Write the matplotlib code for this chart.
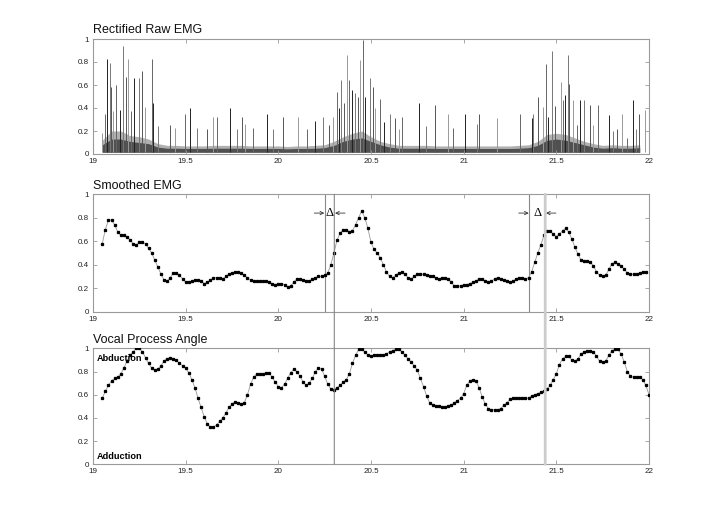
import numpy as np
import matplotlib
matplotlib.use("Agg")
import matplotlib.pyplot as plt
from matplotlib.patches import ConnectionPatch

plt.rcParams['font.family'] = ['Liberation Sans', 'DejaVu Sans']

# ---------------- data ----------------
sample_start = 19.05
sample_rate = 60.0

smoothed_emg = [
    0.58, 0.70, 0.78, 0.78, 0.74, 0.68, 0.65, 0.65, 0.64, 0.61,
    0.58, 0.57, 0.59, 0.59, 0.58, 0.54, 0.50, 0.44, 0.38, 0.32,
    0.27, 0.26, 0.29, 0.33, 0.33, 0.31, 0.28, 0.25, 0.25, 0.26,
    0.27, 0.27, 0.26, 0.24, 0.25, 0.27, 0.29, 0.29, 0.29, 0.28,
    0.30, 0.32, 0.33, 0.34, 0.34, 0.33, 0.31, 0.29, 0.27, 0.26,
    0.26, 0.26, 0.26, 0.26, 0.25, 0.24, 0.23, 0.24,
    0.24, 0.23, 0.21, 0.22, 0.25, 0.28, 0.28, 0.27, 0.26, 0.26,
    0.28, 0.29, 0.30, 0.30, 0.31, 0.33, 0.40, 0.50, 0.61, 0.67,
    0.70, 0.70, 0.68, 0.69, 0.74, 0.80, 0.86, 0.80, 0.71, 0.59,
    0.53, 0.50, 0.46, 0.40, 0.34, 0.30, 0.29, 0.31, 0.33, 0.34,
    0.32, 0.29, 0.28, 0.30, 0.32, 0.32, 0.32, 0.31, 0.30, 0.30,
    0.29, 0.28, 0.29, 0.29, 0.28, 0.25, 0.22, 0.22, 0.22, 0.23,
    0.23, 0.24, 0.25, 0.26, 0.28, 0.28, 0.26, 0.25, 0.26, 0.28,
    0.29, 0.28, 0.27, 0.26, 0.25, 0.26, 0.28, 0.29, 0.29, 0.28,
    0.29, 0.34, 0.42, 0.50, 0.57, 0.65, 0.69, 0.69, 0.66, 0.64,
    0.66, 0.69, 0.71, 0.68, 0.62, 0.55, 0.49, 0.44, 0.43, 0.43,
    0.42, 0.39, 0.34, 0.31, 0.30, 0.31, 0.36, 0.41, 0.42, 0.41,
    0.39, 0.36, 0.33, 0.32, 0.32, 0.32, 0.33, 0.34, 0.34,
]

vocal_angle = [
    0.57, 0.63, 0.68, 0.72, 0.74, 0.75, 0.78, 0.83, 0.89, 0.94,
    0.97, 1.00, 1.00, 0.97, 0.92, 0.87, 0.83, 0.81, 0.82, 0.85,
    0.89, 0.91, 0.92, 0.91, 0.90, 0.87, 0.85, 0.83, 0.79, 0.73,
    0.66, 0.57, 0.49, 0.41, 0.35, 0.32, 0.32, 0.34, 0.37, 0.40,
    0.44, 0.49, 0.52, 0.54, 0.53, 0.52, 0.53, 0.60, 0.69, 0.75,
    0.78, 0.78, 0.78, 0.79, 0.79, 0.75, 0.71, 0.67,
    0.66, 0.69, 0.74, 0.79, 0.82, 0.80, 0.76, 0.71, 0.68, 0.70,
    0.74, 0.80, 0.83, 0.82, 0.76, 0.69, 0.65, 0.64, 0.66, 0.68,
    0.71, 0.73, 0.78, 0.87, 0.94, 0.99, 0.99, 0.97, 0.94, 0.93,
    0.94, 0.94, 0.94, 0.94, 0.95, 0.97, 0.98, 0.99, 0.99, 0.97,
    0.94, 0.91, 0.88, 0.85, 0.81, 0.74, 0.67, 0.59, 0.53, 0.51,
    0.50, 0.50, 0.49, 0.49, 0.50, 0.51, 0.53, 0.55, 0.57, 0.61,
    0.68, 0.72, 0.73, 0.72, 0.66, 0.58, 0.52, 0.48, 0.47, 0.47,
    0.47, 0.48, 0.51, 0.53, 0.56, 0.57, 0.57, 0.57, 0.57, 0.57,
    0.57, 0.59, 0.60, 0.61, 0.62, 0.63, 0.65, 0.68, 0.73, 0.78,
    0.86, 0.91, 0.93, 0.93, 0.90, 0.89, 0.91, 0.95, 0.97, 0.98,
    0.98, 0.97, 0.93, 0.89, 0.88, 0.89, 0.94, 0.98, 0.99, 0.99,
    0.95, 0.88, 0.80, 0.76, 0.75, 0.75, 0.75, 0.73, 0.68, 0.60,
]

# Raw EMG: visible spikes (time, peak) and baseline envelopes
spike_times = [
    19.050, 19.065, 19.077, 19.090, 19.097, 19.110, 19.122, 19.147, 19.164, 19.176,
    19.191, 19.203, 19.221, 19.250, 19.266, 19.281, 19.320, 19.325, 19.353, 19.416,
    19.443, 19.497, 19.523, 19.560, 19.614, 19.649, 19.667, 19.739, 19.775, 19.802,
    19.820, 19.865, 19.941, 19.973, 20.024, 20.108, 20.153, 20.198, 20.243, 20.275,
    20.297, 20.315, 20.329, 20.338, 20.355, 20.369, 20.383, 20.398, 20.416, 20.428,
    20.441, 20.455, 20.468, 20.493, 20.509, 20.522, 20.549, 20.570, 20.603, 20.630,
    20.653, 20.669, 20.761, 20.797, 20.846, 20.918, 20.941, 21.008, 21.071, 21.083,
    21.179, 21.304, 21.367, 21.376, 21.403, 21.430, 21.445, 21.457, 21.479, 21.493,
    21.524, 21.535, 21.549, 21.562, 21.570, 21.589, 21.610, 21.628, 21.650, 21.682,
    21.700, 21.727, 21.786, 21.808, 21.830, 21.856, 21.883, 21.916, 21.930, 21.948,
    21.979,
]
spike_peaks = [
    0.18, 0.35, 0.83, 0.79, 0.58, 0.37, 0.60, 0.38, 0.94, 0.67,
    0.83, 0.37, 0.66, 0.66, 0.72, 0.41, 0.83, 0.44, 0.24, 0.25,
    0.23, 0.35, 0.40, 0.23, 0.22, 0.32, 0.32, 0.40, 0.22, 0.32,
    0.26, 0.23, 0.35, 0.22, 0.32, 0.32, 0.22, 0.29, 0.32, 0.25,
    0.32, 0.54, 0.40, 0.64, 0.44, 0.86, 0.64, 0.56, 0.53, 0.50,
    0.82, 0.99, 0.50, 0.66, 0.58, 0.40, 0.48, 0.28, 0.35, 0.31,
    0.22, 0.32, 0.44, 0.24, 0.43, 0.35, 0.23, 0.35, 0.26, 0.35,
    0.31, 0.35, 0.31, 0.35, 0.50, 0.41, 0.78, 0.32, 0.90, 0.42,
    0.63, 0.47, 0.51, 0.86, 0.61, 0.47, 0.25, 0.47, 0.47, 0.43,
    0.25, 0.43, 0.34, 0.20, 0.22, 0.35, 0.14, 0.47, 0.22, 0.35,
    0.38,
]

envelope_times = [
    19.05, 19.10, 19.15, 19.20, 19.25, 19.30, 19.35, 19.40, 19.45, 19.50,
    19.55, 19.60, 19.65, 19.70, 19.75, 19.80, 19.85, 19.90, 19.95, 20.00,
    20.05, 20.10, 20.15, 20.20, 20.25, 20.30, 20.35, 20.40, 20.45, 20.50,
    20.55, 20.60, 20.65, 20.70, 20.75, 20.80, 20.85, 20.90, 20.95, 21.00,
    21.05, 21.10, 21.15, 21.20, 21.25, 21.30, 21.35, 21.40, 21.45, 21.50,
    21.55, 21.60, 21.65, 21.70, 21.75, 21.80, 21.85, 21.90, 21.95,
]
envelope_light = [
    0.12, 0.20, 0.20, 0.16, 0.15, 0.13, 0.09, 0.075, 0.075, 0.07,
    0.07, 0.07, 0.075, 0.075, 0.075, 0.075, 0.07, 0.07, 0.07, 0.07,
    0.065, 0.07, 0.07, 0.075, 0.08, 0.11, 0.15, 0.18, 0.20, 0.15,
    0.11, 0.09, 0.075, 0.075, 0.075, 0.075, 0.07, 0.07, 0.07, 0.07,
    0.07, 0.07, 0.07, 0.07, 0.07, 0.075, 0.08, 0.11, 0.17, 0.18,
    0.17, 0.14, 0.11, 0.09, 0.075, 0.08, 0.075, 0.075, 0.08,
]
envelope_dark = [
    0.08, 0.13, 0.13, 0.11, 0.10, 0.09, 0.06, 0.05, 0.05, 0.048,
    0.048, 0.048, 0.05, 0.05, 0.05, 0.05, 0.048, 0.048, 0.048, 0.048,
    0.045, 0.048, 0.048, 0.05, 0.055, 0.075, 0.11, 0.13, 0.14, 0.11,
    0.08, 0.06, 0.05, 0.05, 0.05, 0.05, 0.048, 0.048, 0.048, 0.048,
    0.048, 0.048, 0.048, 0.048, 0.048, 0.05, 0.055, 0.075, 0.12, 0.13,
    0.12, 0.10, 0.08, 0.06, 0.05, 0.055, 0.05, 0.05, 0.055,
]

onset_lines = [20.252, 21.355]      # middle panel only
angle_lines = [20.302, 21.440]      # span middle + bottom panels

x_ticks = [19, 19.5, 20, 20.5, 21, 21.5, 22]
x_tick_labels = ['19', '19.5', '20', '20.5', '21', '21.5', '22']
y_ticks = [0, 0.2, 0.4, 0.6, 0.8, 1.0]
y_tick_labels = ['0', '0.2', '0.4', '0.6', '0.8', '1']
titles = ['Rectified Raw EMG', 'Smoothed EMG', 'Vocal Process Angle']

# ---------------- figure ----------------
fig = plt.figure(figsize=(7.18, 5.24), dpi=100)
L, W = 93 / 718, 556 / 718
ax_top = fig.add_axes([L, 1 - 154 / 524, W, 115 / 524])
ax_mid = fig.add_axes([L, 1 - 311.7 / 524, W, 117.4 / 524])
ax_bot = fig.add_axes([L, 1 - 464.3 / 524, W, 116 / 524])

spine_c = '#9a9a9a'
for ax, title in zip([ax_top, ax_mid, ax_bot], titles):
    ax.set_xlim(19, 22)
    ax.set_ylim(0, 1)
    ax.set_xticks(x_ticks)
    ax.set_xticklabels(x_tick_labels)
    ax.set_yticks(y_ticks)
    ax.set_yticklabels(y_tick_labels)
    ax.tick_params(direction='in', top=True, right=True, length=3, width=0.6,
                   color=spine_c, labelsize=5.8, pad=3, labelcolor='#222')
    for s in ax.spines.values():
        s.set_color(spine_c)
        s.set_linewidth(0.8)
    ax.set_title(title, loc='left', fontsize=9, pad=4, color='#111')

# top: raw EMG
ax_top.fill_between(envelope_times, 0.015, envelope_light, color='#b0b0b0', lw=0)
ax_top.fill_between(envelope_times, 0.015, envelope_dark, color='#505050', lw=0)
shades = ['#999999', '#666666', '#222222', '#777777', '#555555']
spike_colors = [shades[i % len(shades)] for i in range(len(spike_times))]
ax_top.vlines(spike_times, 0.015, spike_peaks, colors=spike_colors, lw=0.7)

# middle: smoothed EMG
t_s = sample_start + np.arange(len(smoothed_emg)) / sample_rate
ax_mid.plot(t_s, smoothed_emg, color='#999999', lw=0.6, marker='s', ms=1.4,
            mfc='k', mec='k', zorder=3)

# bottom: vocal process angle
t_a = sample_start + np.arange(len(vocal_angle)) / sample_rate
ax_bot.plot(t_a, vocal_angle, color='#999999', lw=0.6, marker='s', ms=1.4,
            mfc='k', mec='k', zorder=3, clip_on=True)
ax_bot.text(19.02, 0.91, 'Abduction', fontsize=6.6, fontweight='bold', va='center', ha='left')
ax_bot.text(19.02, 0.065, 'Adduction', fontsize=6.6, fontweight='bold', va='center', ha='left')

# vertical marker lines
for x in onset_lines:
    ax_mid.axvline(x, color='#8a8a8a', lw=0.8, zorder=2)
line_styles = [dict(color='#858585', lw=0.8), dict(color='#cccccc', lw=2.0)]
for x, st in zip(angle_lines, line_styles):
    con = ConnectionPatch(xyA=(x, 1), coordsA=ax_mid.get_xaxis_transform(),
                          xyB=(x, 0), coordsB=ax_bot.get_xaxis_transform(), **st)
    con.set_zorder(1)
    fig.add_artist(con)

# delta annotations
serif = ['Liberation Serif', 'DejaVu Serif']
for x0, x1 in zip(onset_lines, angle_lines):
    yv = 0.84
    ax_mid.text((x0 + x1) / 2, yv, 'Δ', family=serif, fontsize=9, ha='center', va='center')
    ap = dict(arrowstyle='->', lw=0.6, color='#333333', mutation_scale=6,
              shrinkA=0, shrinkB=0)
    ax_mid.annotate('', xy=(x0 - 0.004, yv), xytext=(x0 - 0.058, yv), arrowprops=ap)
    ax_mid.annotate('', xy=(x1 + 0.004, yv), xytext=(x1 + 0.058, yv), arrowprops=ap)

fig.savefig('out.png', dpi=100)
